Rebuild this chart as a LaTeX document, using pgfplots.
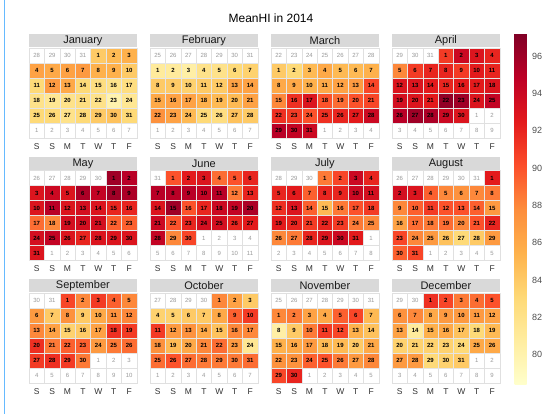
\documentclass[border=0pt]{standalone}
\usepackage{fontspec}
\setmainfont{Liberation Sans}
\usepackage{pgfplots}
\pgfplotsset{compat=1.18}
\usepackage{pgfplotstable}

% one calendar cell, 15.4 x 15 pt
\pgfdeclareplotmark{cell}{%
  \pgfpathrectangle{\pgfpoint{-7.7pt}{-7.5pt}}{\pgfpoint{15.4pt}{15pt}}%
  \pgfusepathqfillstroke}

% daily MeanHI, 2014 (day, value)
\pgfplotstableread[row sep=\\]{d v\\
1 84\\2 85\\3 85.5\\4 86.5\\5 86\\6 86.5\\7 87\\8 85.5\\9 85.5\\10 84\\
11 83\\12 87\\13 86\\14 83\\15 82.5\\16 82\\17 82.5\\18 82\\19 81.5\\20 82\\
21 82.5\\22 82\\23 80\\24 81.5\\25 83\\26 83\\27 82\\28 83\\29 84\\30 84.5\\31 83\\}\jan
\pgfplotstableread[row sep=\\]{d v\\
1 81\\2 81\\3 80.5\\4 82\\5 82\\6 83\\7 83.5\\8 84\\9 84\\10 83.5\\
11 84\\12 84\\13 86.5\\14 86.5\\15 86\\16 86.5\\17 86.5\\18 85.5\\19 85\\20 85\\
21 86.5\\22 87.5\\23 86.5\\24 85\\25 83\\26 82.5\\27 84.5\\28 84\\}\feb
\pgfplotstableread[row sep=\\]{d v\\
1 84\\2 83\\3 85\\4 86\\5 85\\6 85\\7 85.5\\8 86\\9 86\\10 85.5\\
11 86\\12 86.5\\13 87\\14 90.5\\15 88\\16 91.5\\17 93\\18 90\\19 89\\20 90\\
21 90.5\\22 91.5\\23 91\\24 90\\25 91.5\\26 92\\27 92.5\\28 94\\29 95\\30 94.5\\31 94\\}\mar
\pgfplotstableread[row sep=\\]{d v\\
1 91\\2 94\\3 93\\4 92\\5 88\\6 91\\7 92\\8 92\\9 91\\10 92.5\\
11 92\\12 93\\13 93\\14 92.5\\15 92\\16 92.5\\17 92.5\\18 93\\19 93.5\\20 93\\
21 92.5\\22 96.5\\23 96\\24 93\\25 94.5\\26 95\\27 96\\28 95.5\\29 94\\30 93\\}\apr
\pgfplotstableread[row sep=\\]{d v\\
1 96\\2 95\\3 93\\4 94\\5 93\\6 95.5\\7 94.5\\8 96\\9 95.5\\10 93\\
11 95\\12 93\\13 93.5\\14 93\\15 92\\16 92\\17 89\\18 88\\19 93.5\\20 93.5\\
21 93.5\\22 89.5\\23 89.5\\24 93.5\\25 94.5\\26 93\\27 92\\28 93\\29 93\\30 93\\31 93\\}\may
\pgfplotstableread[row sep=\\]{d v\\
1 90\\2 92.5\\3 93\\4 89\\5 90\\6 92\\7 95\\8 95\\9 95\\10 94.5\\
11 95\\12 88.5\\13 92\\14 93\\15 96\\16 90\\17 92\\18 94\\19 94.5\\20 95.5\\
21 94\\22 90\\23 92\\24 93.5\\25 93.5\\26 92\\27 92.5\\28 94.5\\29 88\\30 90.5\\}\jun
\pgfplotstableread[row sep=\\]{d v\\
1 88.5\\2 90.5\\3 94\\4 92\\5 92\\6 92.5\\7 89.5\\8 92\\9 92\\10 94\\
11 93.5\\12 91.5\\13 93\\14 89.5\\15 85\\16 88.5\\17 90\\18 91\\19 92.5\\20 92\\
21 91\\22 92\\23 91\\24 88.5\\25 88\\26 88\\27 88.5\\28 92\\29 93\\30 94\\31 92.5\\}\jul
\pgfplotstableread[row sep=\\]{d v\\
1 92.5\\2 93.5\\3 93\\4 89.5\\5 88\\6 87.5\\7 88\\8 88.5\\9 88\\10 89.5\\
11 91\\12 90\\13 90\\14 89.5\\15 87\\16 86.5\\17 89\\18 88.5\\19 89\\20 88\\
21 90\\22 92\\23 90.5\\24 88\\25 87\\26 84.5\\27 83\\28 84\\29 87\\30 89.5\\31 90.5\\}\aug
\pgfplotstableread[row sep=\\]{d v\\
1 90.5\\2 88\\3 91\\4 89.5\\5 88\\6 87\\7 84\\8 87.5\\9 84\\10 86\\
11 87.5\\12 88\\13 88\\14 86.5\\15 83.5\\16 84\\17 86.5\\18 91.5\\19 91\\20 91.5\\
21 88.5\\22 89.5\\23 89.5\\24 87\\25 88.5\\26 89\\27 91\\28 91.5\\29 91\\30 88.5\\}\sep
\pgfplotstableread[row sep=\\]{d v\\
1 88\\2 86.5\\3 84\\4 83.5\\5 83.5\\6 84\\7 84\\8 86\\9 89.5\\10 91\\
11 91\\12 87\\13 87.5\\14 86\\15 84.5\\16 88\\17 88\\18 87.5\\19 85\\20 86\\
21 88\\22 89\\23 87\\24 81.5\\25 89\\26 90\\27 89\\28 88.5\\29 88.5\\30 88.5\\31 89\\}\oct
\pgfplotstableread[row sep=\\]{d v\\
1 88\\2 88.5\\3 86.5\\4 86\\5 89.5\\6 90.5\\7 85\\8 80.5\\9 84\\10 88.5\\
11 91\\12 90.5\\13 85.5\\14 84.5\\15 85.5\\16 86\\17 87\\18 85\\19 85\\20 84\\
21 86\\22 87.5\\23 87.5\\24 89.5\\25 90\\26 88.5\\27 87\\28 88\\29 90.5\\30 92\\}\nov
\pgfplotstableread[row sep=\\]{d v\\
1 91.5\\2 90.5\\3 88.5\\4 89\\5 90\\6 87.5\\7 88\\8 86\\9 87\\10 87\\
11 87\\12 86.5\\13 86.5\\14 81\\15 85.5\\16 86\\17 84.5\\18 83\\19 85\\20 83.5\\
21 83.5\\22 83.5\\23 83.5\\24 83\\25 86\\26 86\\27 87\\28 87\\29 83\\30 83.5\\31 84\\}\dec

% the 42 cells of a month panel (index, weekday column)
\pgfplotstableread[row sep=\\]{i c\\
0 0\\1 1\\2 2\\3 3\\4 4\\5 5\\6 6\\7 0\\8 1\\9 2\\10 3\\11 4\\12 5\\13 6\\
14 0\\15 1\\16 2\\17 3\\18 4\\19 5\\20 6\\21 0\\22 1\\23 2\\24 3\\25 4\\26 5\\27 6\\
28 0\\29 1\\30 2\\31 3\\32 4\\33 5\\34 6\\35 0\\36 1\\37 2\\38 3\\39 4\\40 5\\41 6\\}\padtab

\newcommand\dayfont{\fontsize{6}{7}\selectfont}
\def\pcx{7.857}
\def\pcy{8.1667}

% #1 panel col, #2 panel row, #3 offset, #4 month length, #5 previous month length
\newcommand\calpad[5]{%
  \addplot[only marks, mark=cell, mark options={draw=black!12, fill=white, line width=0.5pt},
    point meta=\thisrow{i},
    visualization depends on={ifthenelse(\thisrow{i}<#3,#5-#3+1+\thisrow{i},ifthenelse(\thisrow{i}<#3+#4,\thisrow{i}-#3+1,\thisrow{i}-#3-#4+1))\as\dd},
    nodes near coords={\pgfmathtruncatemacro\ddd{\dd}\ddd},
    every node near coord/.append style={anchor=center, inner sep=0pt, text=black!40, font=\dayfont}]
    table[x expr={#1*\pcx+\thisrow{c}}, y expr={#2*\pcy+floor((\thisrow{i}+0.5)/7)}] {\padtab};
}
% #1 table, #2 panel col, #3 panel row, #4 offset
\newcommand\calmonth[4]{%
  \addplot[scatter, only marks, mark=cell, scatter src=explicit,
    scatter/use mapped color={draw=black!10, fill=mapped color},
    mark options={line width=0.5pt}]
    table[x expr={#2*\pcx+mod(\thisrow{d}-1+#4,7)}, y expr={#3*\pcy+floor((\thisrow{d}-0.5+#4)/7)}, meta=v] {#1};
  \addplot[only marks, mark=none, point meta=\thisrow{d},
    nodes near coords={\pgfmathprintnumber[assume math mode=true]{\pgfplotspointmeta}},
    every node near coord/.append style={anchor=center, inner sep=0pt, text=black, font=\dayfont\bfseries}]
    table[x expr={#2*\pcx+mod(\thisrow{d}-1+#4,7)}, y expr={#3*\pcy+floor((\thisrow{d}-0.5+#4)/7)}] {#1};
}

\begin{document}
\begin{tikzpicture}
\path[use as bounding box] (0,0) rectangle (547pt,-414pt);
\begin{axis}[
  anchor=north west, at={(29pt,-33.75pt)},
  x=15.4pt, y=15pt, y dir=reverse,
  xmin=-0.5, xmax=30.07, ymin=-1.45, ymax=22.9,
  hide axis, clip=false,
  colormap={ylorrd}{rgb255=(255,255,204) rgb255=(255,237,160) rgb255=(254,217,118)
    rgb255=(254,178,76) rgb255=(253,141,60) rgb255=(252,78,42) rgb255=(227,26,28)
    rgb255=(189,0,38) rgb255=(128,0,38)},
  point meta min=78.4, point meta max=97.2,
  colorbar,
  colorbar style={
    at={(parent axis.north east)}, anchor=north west, xshift=6.2pt,
    scale only axis, width=12pt, height=351pt,
    ytick={80,82,...,96},
    ytick style={draw=none}, axis line style={draw=none},
    yticklabel style={font=\fontsize{9}{10}\selectfont, text=black!70, xshift=2pt},
    /pgf/number format/assume math mode=true,
  },
]
\calpad{0}{0}{4}{31}{31}  \calmonth{\jan}{0}{0}{4}
\calpad{1}{0}{7}{28}{31}  \calmonth{\feb}{1}{0}{7}
\calpad{2}{0}{7}{31}{28}  \calmonth{\mar}{2}{0}{7}
\calpad{3}{0}{3}{30}{31}  \calmonth{\apr}{3}{0}{3}
\calpad{0}{1}{5}{31}{30}  \calmonth{\may}{0}{1}{5}
\calpad{1}{1}{1}{30}{31}  \calmonth{\jun}{1}{1}{1}
\calpad{2}{1}{3}{31}{30}  \calmonth{\jul}{2}{1}{3}
\calpad{3}{1}{6}{31}{31}  \calmonth{\aug}{3}{1}{6}
\calpad{0}{2}{2}{30}{31}  \calmonth{\sep}{0}{2}{2}
\calpad{1}{2}{4}{31}{30}  \calmonth{\oct}{1}{2}{4}
\calpad{2}{2}{7}{30}{31}  \calmonth{\nov}{2}{2}{7}
\calpad{3}{2}{2}{31}{30}  \calmonth{\dec}{3}{2}{2}
\end{axis}

% panel strips and weekday labels
\foreach \name [count=\k from 0] in {January,February,March,April,May,June,July,August,September,October,November,December}{
  \pgfmathsetmacro\L{29+121*mod(\k,4)}
  \pgfmathsetmacro\T{48+122.5*floor(\k/4)}
  \fill[black!15] (\L pt,-\T pt+13.5pt) rectangle (\L pt+107.8pt,-\T pt+0.8pt);
  \node[font=\fontsize{11}{12}\selectfont, text=black!90, inner sep=0pt] at (\L pt+53.9pt,-\T pt+7pt) {\name};
  \foreach \w [count=\j from 0] in {S,S,M,T,W,T,F}
    \node[font=\fontsize{8.5}{10}\selectfont, text=black!80, inner sep=0pt] at (\L pt+7.7pt+15.4*\j pt,-\T pt-98.3pt) {\w};
}
\node[font=\fontsize{12}{14}\selectfont] at (271pt,-18pt) {MeanHI in 2014};
\draw[blue!45!cyan!60!white, line width=1.2pt] (4.5pt,0pt) -- (4.5pt,-414pt);
\end{tikzpicture}
\end{document}
